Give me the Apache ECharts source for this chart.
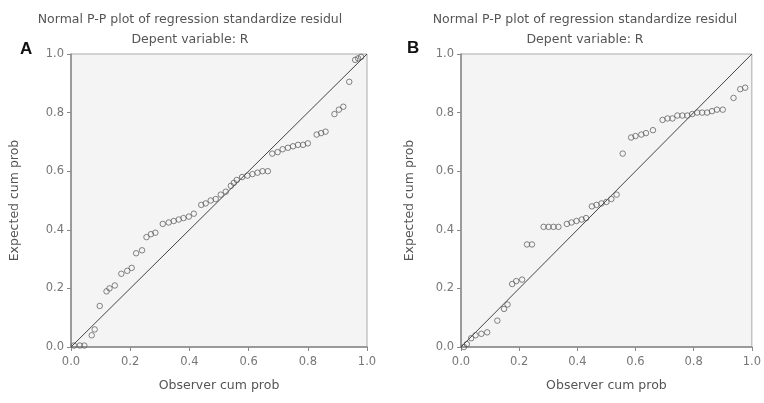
<!DOCTYPE html>
<html>
<head>
<meta charset="utf-8">
<script src="https://cdn.jsdelivr.net/npm/echarts@6/dist/echarts.min.js"></script>
<style>html,body{margin:0;padding:0;background:#fff}#c{width:764px;height:403px}</style>
</head>
<body>
<div id="c"></div>
<script>
const titleLine1 = "Normal P-P plot of regression standardize residul";
const titleLine2 = "Depent variable: R";
const panelLabels = ["A", "B"];
const xName = "Observer cum prob";
const yName = "Expected cum prob";
const tickLabels = ["0.0", "0.2", "0.4", "0.6", "0.8", "1.0"];
const refLine = [[0, 0], [1, 1]];

const aObs = [0.01,0.03,0.045,0.07,0.08,0.097,0.12,0.13,0.148,0.17,0.19,0.205,0.22,0.24,0.255,0.27,0.285,
  0.31,0.33,0.347,0.364,0.38,0.398,0.415,0.44,0.455,0.472,0.489,0.506,0.523,0.54,0.55,0.56,0.578,0.596,0.613,0.63,0.647,0.665,
  0.68,0.698,0.715,0.733,0.75,0.767,0.784,0.8,0.83,0.845,0.86,0.89,0.905,0.92,0.94,0.96,0.97,0.98];
const aExp = [0.005,0.005,0.005,0.04,0.06,0.14,0.19,0.2,0.21,0.25,0.26,0.27,0.32,0.33,0.375,0.385,0.39,
  0.42,0.425,0.43,0.435,0.44,0.445,0.455,0.485,0.49,0.5,0.505,0.52,0.53,0.55,0.56,0.57,0.58,0.585,0.59,0.595,0.6,0.6,
  0.66,0.665,0.675,0.68,0.685,0.69,0.69,0.695,0.725,0.73,0.735,0.795,0.81,0.82,0.905,0.98,0.985,0.99];

const bObs = [0.01,0.02,0.035,0.05,0.07,0.09,0.125,0.148,0.16,0.176,0.19,0.21,0.227,0.244,
  0.284,0.301,0.318,0.335,0.364,0.38,0.397,0.415,0.43,0.45,0.466,0.483,0.5,0.517,0.535,0.556,
  0.585,0.6,0.62,0.636,0.66,0.693,0.71,0.727,0.744,0.761,0.778,0.795,0.812,0.829,0.846,0.863,0.88,0.9,0.937,0.96,0.977];
const bExp = [0.0,0.01,0.03,0.04,0.045,0.05,0.09,0.13,0.145,0.215,0.225,0.23,0.35,0.35,
  0.41,0.41,0.41,0.41,0.42,0.425,0.43,0.435,0.44,0.48,0.485,0.49,0.495,0.505,0.52,0.66,
  0.715,0.72,0.725,0.73,0.74,0.775,0.78,0.78,0.79,0.79,0.79,0.795,0.8,0.8,0.8,0.805,0.81,0.81,0.85,0.88,0.885];

function zip(xs, ys) { return xs.map((x, i) => [x, ys[i]]); }

const FONT = "DejaVu Sans";
const grids = [
  {left: 71, right: 397, top: 54, bottom: 56},
  {left: 461, right: 8, top: 54, bottom: 56}
].map(g => Object.assign(g, {show: true, backgroundColor: "#f4f4f4", borderColor: "#aaa", borderWidth: 1}));

function xAxis(i) {
  return {
    type: "value", gridIndex: i, min: 0, max: 1, interval: 0.2,
    name: xName, nameLocation: "middle", nameGap: 32,
    nameTextStyle: {color: "#555", fontSize: 12.5, fontFamily: FONT},
    axisLine: {show: true, lineStyle: {color: "#888", width: 1.5}},
    axisTick: {show: true, length: 4, lineStyle: {color: "#888"}},
    axisLabel: {color: "#777", fontSize: 11.5, fontFamily: FONT, margin: 9,
      formatter: v => tickLabels[Math.round(v * 5)]},
    splitLine: {show: false}
  };
}
function yAxis(i, gap) {
  return {
    type: "value", gridIndex: i, min: 0, max: 1, interval: 0.2,
    name: yName, nameLocation: "middle", nameGap: gap, nameRotate: 90,
    nameTextStyle: {color: "#555", fontSize: 12.5, fontFamily: FONT},
    axisLine: {show: true, lineStyle: {color: "#888", width: 1.5}},
    axisTick: {show: true, length: 4, lineStyle: {color: "#888"}},
    axisLabel: {color: "#777", fontSize: 11.5, fontFamily: FONT, margin: 7,
      formatter: v => tickLabels[Math.round(v * 5)]},
    splitLine: {show: false}
  };
}

function scatter(i, data) {
  return {type: "scatter", xAxisIndex: i, yAxisIndex: i, data: data, symbol: "circle", symbolSize: 5.5,
    itemStyle: {color: "rgba(0,0,0,0)", borderColor: "#555", borderWidth: 0.9}, z: 3, silent: true};
}
function ref(i) {
  return {type: "line", xAxisIndex: i, yAxisIndex: i, data: refLine, symbol: "none",
    lineStyle: {color: "#444", width: 1}, z: 2, silent: true};
}

const titles = [];
[185, 580].forEach((cx) => {
  titles.push({text: titleLine1, left: cx, top: 8, textAlign: "center",
    textStyle: {color: "#555", fontSize: 12.5, fontWeight: "normal", fontFamily: FONT}});
  titles.push({text: titleLine2, left: cx, top: 28, textAlign: "center",
    textStyle: {color: "#555", fontSize: 12.5, fontWeight: "normal", fontFamily: FONT}});
});
titles.push({text: panelLabels[0], left: 15, top: 36, textStyle: {color: "#111", fontSize: 17, fontWeight: "bold", fontFamily: "Liberation Sans"}});
titles.push({text: panelLabels[1], left: 402, top: 35, textStyle: {color: "#111", fontSize: 17, fontWeight: "bold", fontFamily: "Liberation Sans"}});

const chart = echarts.init(document.getElementById("c"), null, {renderer: "canvas"});
chart.setOption({
  animation: false,
  backgroundColor: "#fff",
  title: titles,
  grid: grids,
  xAxis: [xAxis(0), xAxis(1)],
  yAxis: [yAxis(0, 50), yAxis(1, 45)],
  series: [ref(0), scatter(0, zip(aObs, aExp)), ref(1), scatter(1, zip(bObs, bExp))]
});
</script>
</body>
</html>
